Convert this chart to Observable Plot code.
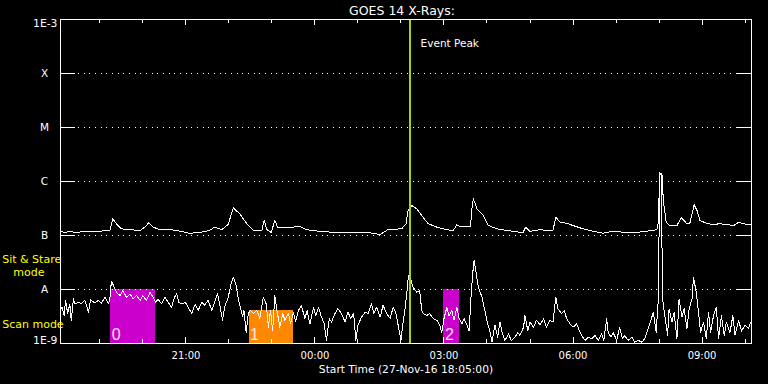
<!DOCTYPE html>
<html><head><meta charset="utf-8">
<script src="https://cdn.jsdelivr.net/npm/d3@7"></script>
<script src="https://cdn.jsdelivr.net/npm/@observablehq/plot@0.6"></script>
<style>
html,body{margin:0;padding:0;background:#000;}
#chart{width:768px;height:384px;overflow:hidden;}
</style></head><body><div id="chart"></div>
<script>
// ---- data (flux in units of 1e-9 W/m^2, time in minutes after 27-Nov-16 18:05 UTC) ----
const longChannel = [[0,120],[6,114],[13,119],[20,114],[27,116],[34,119],[41,121],[48,121],[55,119],[62,124],[69,124],[73,204],[78,165],[85,133],[97,128],[111,124],[119,147],[123,174],[129,143],[139,128],[153,129],[167,120],[180,110],[194,114],[208,124],[215,143],[225,129],[234,160],[241,326],[250,252],[260,165],[269,124],[281,124],[284,190],[288,129],[294,114],[299,190],[303,141],[320,141],[334,147],[343,128],[362,119],[380,115],[403,115],[427,115],[446,104],[457,129],[476,133],[482,165],[485,299],[490,359],[497,312],[504,234],[513,165],[525,143],[539,128],[548,124],[553,158],[557,147],[572,147],[574,312],[576,478],[581,312],[590,234],[597,153],[609,133],[622,124],[641,115],[645,112],[649,143],[655,119],[669,128],[678,124],[687,124],[691,218],[697,176],[706,169],[715,153],[729,133],[743,120],[757,110],[771,120],[785,115],[799,112],[818,120],[832,128],[834,176],[836,1390],[839,1425],[841,445],[845,176],[850,153],[860,153],[866,213],[874,165],[878,169],[884,370],[888,290],[892,190],[901,169],[910,160],[920,165],[939,153],[946,176],[957,160],[963,163]];

const shortChannel = [[0,4.1],[2,4.7],[5,3.3],[7,6.3],[10,3.6],[13,5.4],[15,2.7],[18,6.7],[20,5.4],[25,5.8],[29,5.4],[34,6.3],[39,3.8],[42,6.4],[48,5.6],[53,6.3],[57,5.6],[62,7.2],[67,5.4],[69,7.2],[71,14.3],[75,11],[78,8.9],[83,7.7],[87,9.6],[92,7.2],[97,8.3],[101,6.7],[106,7.7],[111,6.3],[115,7.7],[120,6.3],[125,8.9],[129,7.2],[133,5.8],[136,6.7],[141,5.4],[146,7.2],[150,5.8],[155,4.7],[159,7.2],[162,8.3],[165,5.8],[169,5.4],[174,5.8],[178,4.7],[183,3.6],[188,5.4],[192,4.1],[197,5.8],[201,5.1],[206,6.3],[211,4.1],[215,5.8],[219,8.3],[222,5.4],[226,2.7],[229,4.7],[234,7.2],[238,12.8],[241,16.9],[245,11.9],[248,6.7],[251,4.7],[254,3.1],[256,4.1],[259,1.6],[262,3.6],[265,4.1],[269,3.6],[274,4.1],[278,2.9],[283,7.2],[287,5.4],[290,2.0],[293,4.1],[296,1.7],[299,7.7],[302,4.1],[306,2.0],[310,3.6],[313,2.7],[318,3.6],[321,2.3],[325,3.8],[328,2.5],[332,4.1],[336,5.1],[341,2.9],[344,4.1],[348,2.3],[353,4.7],[356,3.3],[360,4.7],[364,3.1],[368,2.3],[371,1.14],[375,2.9],[378,2.5],[383,3.6],[387,4.4],[392,3.6],[397,2.5],[401,3.8],[405,2.9],[409,3.6],[412,1.14],[415,2.2],[420,3.1],[425,3.8],[429,3.6],[434,5.4],[437,3.6],[441,4.7],[446,3.1],[450,5.1],[455,3.6],[460,2.9],[464,4.7],[468,3.6],[471,2.2],[475,1.14],[477,2.0],[481,4.7],[483,8.3],[485,15.8],[486,18.2],[489,14.7],[492,11],[497,8.9],[501,9.6],[504,4.1],[506,3.6],[511,3.3],[515,3.6],[520,2.9],[525,2.7],[529,2.2],[532,1.6],[535,2.9],[539,4.7],[542,3.3],[546,4.1],[549,2.7],[553,4.7],[556,2.9],[560,2.3],[563,2.9],[567,2.2],[570,1.7],[573,8.3],[575,19.5],[577,34.4],[580,19.5],[583,11],[588,7.2],[592,4.1],[596,2.3],[599,1.7],[602,1.06],[606,2.2],[610,1.31],[613,2.5],[616,1.6],[620,1.14],[625,1.5],[629,1.14],[634,1.31],[638,1.6],[641,1.41],[646,2.0],[648,3.3],[652,1.7],[655,2.5],[660,2.0],[664,2.7],[669,2.2],[674,2.9],[678,2.0],[683,2.7],[687,2.5],[691,7.2],[694,4.4],[699,3.6],[703,4.1],[706,2.9],[711,2.3],[715,2.0],[720,2.3],[725,1.6],[727,1.41],[732,1.14],[736,1.31],[741,1.22],[746,1.41],[750,1.14],[755,1.5],[758,1.14],[762,2.9],[764,1.6],[768,1.31],[771,1.6],[776,1.14],[780,2.0],[784,1.22],[787,1.41],[792,1.14],[797,1.31],[801,1.06],[806,1.14],[811,1.06],[815,1.22],[820,1.9],[823,2.5],[827,3.8],[831,1.6],[834,6.7],[836,1486],[838,1291],[840,6.7],[843,3.3],[847,1.41],[849,4.4],[853,2.5],[856,3.8],[860,1.22],[863,6.7],[867,3.1],[870,4.4],[874,1.9],[877,4.4],[881,6.7],[883,16.9],[887,8.9],[890,3.8],[893,1.6],[897,2.5],[901,1.22],[904,3.8],[907,1.6],[911,3.3],[915,4.7],[918,1.22],[922,3.3],[926,1.41],[929,2.5],[934,1.6],[938,3.3],[941,1.41],[946,2.7],[950,1.7],[955,2.2],[960,1.9],[963,2.5]];

const modeStart = ["19:15", "22:28", "03:00"];
const modeEnd   = ["20:18", "23:30", "03:22"];
const modeTop   = [1e-8, 4.1e-9, 1e-8];
const modeColor = ["#cc00cc", "#ff8800", "#cc00cc"];
const modeLabel = ["0", "1", "2"];

const eventPeak = "02:12";

const levelValues = [1e-8, 1e-7, 1e-6, 1e-5, 1e-4];
const levelLabels = ["A", "B", "C", "M", "X"];
const hourTicks = ["19:00","20:00","21:00","22:00","23:00","00:00","01:00","02:00","03:00","04:00","05:00","06:00","07:00","08:00","09:00","10:00"];
const majorTicks = ["21:00","00:00","03:00","06:00","09:00"];

// ---- helpers ----
const startTime = Date.UTC(2016, 10, 27, 18, 5);
const endTime = Date.UTC(2016, 10, 28, 10, 9);
const atOffset = m => new Date(startTime + m * 60000);
const atClock = s => { const [h, mi] = s.split(":").map(Number); return new Date(Date.UTC(2016, 10, h < 18 ? 28 : 27, h, mi)); };

const longData = longChannel.map(([m, v]) => ({t: atOffset(m), f: v * 1e-9}));
const shortData = shortChannel.map(([m, v]) => ({t: atOffset(m), f: v * 1e-9}));
const modes = modeStart.map((s, i) => ({start: atClock(s), end: atClock(modeEnd[i]), top: modeTop[i], color: modeColor[i], label: modeLabel[i], base: 1e-9}));
const levels = levelValues.map((v, i) => ({v, label: levelLabels[i]}));

const W = "#ffffff";
const F = "'DejaVu Sans', sans-serif";
const crisp = {shapeRendering: "crispEdges"};
const chart = Plot.plot({
  width: 768, height: 384,
  marginLeft: 60, marginRight: 17, marginTop: 19, marginBottom: 41,
  style: {background: "#000", color: W, fontFamily: F, fontSize: "10px"},
  x: {type: "utc", domain: [new Date(startTime), new Date(endTime)], axis: null},
  y: {type: "log", domain: [1e-9, 1e-3], axis: null},
  color: {type: "identity"},
  marks: [
    Plot.rect(modes, {x1: "start", x2: "end", y1: "base", y2: "top", fill: "color", ...crisp}),
    Plot.ruleY(levels, {y: "v", stroke: W, strokeDasharray: "1 4.67", insetLeft: 18, insetRight: 19, ...crisp}),
    Plot.ruleY(levels, {y: "v", stroke: W, insetRight: 676, ...crisp}),
    Plot.ruleY(levels, {y: "v", stroke: W, insetLeft: 676, ...crisp}),
    Plot.text(modes, {x: "start", y: "base", text: "label", textAnchor: "start", lineAnchor: "bottom", dx: 1, dy: -4, fill: "#ffe6ff", fontSize: 16, fontFamily: "'Liberation Sans', sans-serif"}),
    Plot.line(longData, {x: "t", y: "f", stroke: W, strokeWidth: 1, clip: true, ...crisp}),
    Plot.line(shortData, {x: "t", y: "f", stroke: W, strokeWidth: 1, clip: true, ...crisp}),
    Plot.ruleX([atClock(eventPeak)], {stroke: "#a4d40a", strokeWidth: 2, ...crisp}),
    Plot.text(["Event Peak"], {x: () => atClock(eventPeak), frameAnchor: "top", textAnchor: "start", lineAnchor: "bottom", dx: 11, dy: 27.7, fill: W, fontSize: 10.5}),
    Plot.frame({stroke: W, ...crisp}),
    // x ticks (inward, bottom and top)
    Plot.ruleX(hourTicks, {x: d => atClock(d), stroke: W, insetTop: 320, ...crisp}),
    Plot.ruleX(majorTicks, {x: d => atClock(d), stroke: W, insetTop: 318, ...crisp}),
    Plot.ruleX(hourTicks, {x: d => atClock(d), stroke: W, insetBottom: 320, ...crisp}),
    Plot.ruleX(majorTicks, {x: d => atClock(d), stroke: W, insetBottom: 318, ...crisp}),
    Plot.text(majorTicks, {x: d => atClock(d), text: d => d, frameAnchor: "bottom", lineAnchor: "bottom", dy: 15.5, fill: W, fontSize: 10}),
    Plot.text(["Start Time (27-Nov-16 18:05:00)"], {frameAnchor: "bottom", lineAnchor: "bottom", dy: 29, fill: W, fontSize: 10.7}),
    Plot.text(["GOES 14 X-Rays:"], {frameAnchor: "top", lineAnchor: "bottom", dx: -4, dy: -5, fill: W, fontSize: 12.5}),
    // y labels
    Plot.text(levels, {y: "v", text: "label", frameAnchor: "left", textAnchor: "middle", dx: -16, fill: W, fontSize: 10.5}),
    Plot.text(["1E-3"], {y: () => 1e-3, frameAnchor: "left", textAnchor: "end", dx: -3, dy: 4, fill: W, fontSize: 10.8}),
    Plot.text(["1E-9"], {y: () => 1e-9, frameAnchor: "left", textAnchor: "end", dx: -3, dy: -3, fill: W, fontSize: 10.8}),
    Plot.text(["Sit & Stare"], {frameAnchor: "bottom-left", textAnchor: "start", lineAnchor: "bottom", dx: -58.3, dy: -80.3, fill: "#ffff00", fontSize: 11}),
    Plot.text(["mode"], {frameAnchor: "bottom-left", textAnchor: "start", lineAnchor: "bottom", dx: -47.3, dy: -68, fill: "#ffff00", fontSize: 11}),
    Plot.text(["Scan mode"], {frameAnchor: "bottom-left", textAnchor: "start", lineAnchor: "bottom", dx: -58.3, dy: -15.3, fill: "#ffff00", fontSize: 11})
  ]
});
document.getElementById("chart").appendChild(chart);
</script>
</body></html>
